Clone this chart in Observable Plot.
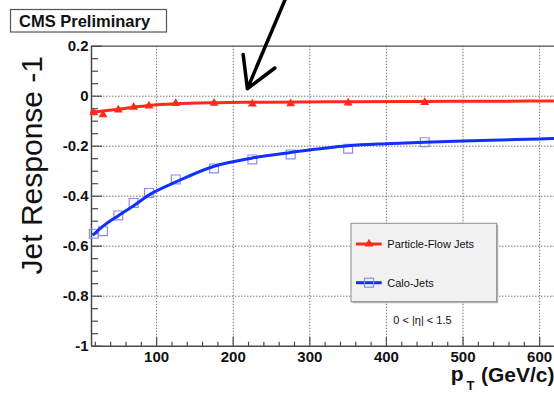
<!DOCTYPE html>
<html>
<head>
<meta charset="utf-8">
<script src="https://cdn.jsdelivr.net/npm/d3@7"></script>
<script src="https://cdn.jsdelivr.net/npm/@observablehq/plot@0.6"></script>
<style>
  html, body { margin: 0; padding: 0; background: #fff; overflow: hidden; }
  svg { display: block; }
</style>
</head>
<body>
<script>
// Jet response (reconstructed / true pT minus one) versus generated jet pT, |eta| < 1.5
const seriesNames = ["Particle-Flow Jets", "Calo-Jets"];
const seriesColors = ["#ff2a1a", "#1030ff"];
const caloMarkerColor = "#8a8cf6";

// measured points (pT bins in GeV/c)
const ptBins = [18, 30, 50, 70, 90, 125, 175, 225, 275, 350, 450];
const pfResponse = [-0.066, -0.074, -0.055, -0.044, -0.039, -0.029, -0.028, -0.031, -0.030, -0.027, -0.025];
const caloResponse = [-0.550, -0.540, -0.477, -0.427, -0.387, -0.333, -0.289, -0.253, -0.233, -0.210, -0.184];

// fitted response curves
const pfFitPt = [15, 30, 50, 70, 90, 125, 175, 250, 350, 450, 550, 620];
const pfFit = [-0.064, -0.059, -0.052, -0.044, -0.037, -0.030, -0.026, -0.024, -0.022, -0.021, -0.020, -0.019];
const caloFitPt = [18, 30, 50, 70, 90, 125, 175, 225, 275, 350, 400, 450, 500, 550, 600, 620];
const caloFit = [-0.553, -0.520, -0.478, -0.438, -0.395, -0.343, -0.280, -0.247, -0.225, -0.198, -0.190, -0.184, -0.179, -0.175, -0.171, -0.169];

// axes
const xDomain = [15, 619.4];
const yDomain = [-1, 0.2];
const xTicks = [100, 200, 300, 400, 500, 600];
const xMinorTicks = d3.range(20, 620, 20).filter(v => v % 100 !== 0);
const yTicks = [0.2, 0, -0.2, -0.4, -0.6, -0.8, -1];
const yTickLabels = ["0.2", "0", "-0.2", "-0.4", "-0.6", "-0.8", "-1"];
const yMinorTicks = d3.range(-20, 5).map(k => k * 0.05).filter(v => Math.abs(Math.round(v * 5) - v * 5) > 1e-6);
const yGridTicks = [0, -0.2, -0.4, -0.6, -0.8];

// annotations
const arrowNote = [{x1: 271, y1: 0.41, x2: 218.5, y2: 0.03}];
const etaNote = [{x: 447, y: -0.896, text: "0 < |\u03b7| < 1.5"}];
const headerText = "CMS Preliminary";
const yTitle = "Jet Response -1";

const FONT = '"Liberation Sans", Arial, Helvetica, sans-serif';
const frameStroke = "#4a4a4a";
const gridStyle = {stroke: "#777", strokeOpacity: 1, strokeWidth: 1, strokeDasharray: "1.5,1.5"};

const pfPoints = ptBins.map((x, i) => ({x, y: pfResponse[i]}));
const caloPoints = ptBins.map((x, i) => ({x, y: caloResponse[i]}));
const pfCurve = pfFitPt.map((x, i) => ({x, y: pfFit[i]}));
const caloCurve = caloFitPt.map((x, i) => ({x, y: caloFit[i]}));
const yLabelMap = new Map(yTicks.map((t, i) => [t, yTickLabels[i]]));

const chart = Plot.plot({
  width: 554,
  height: 395,
  marginLeft: 91,
  marginRight: 0,
  marginTop: 45.7,
  marginBottom: 49.3,
  style: {fontFamily: FONT, background: "white", overflow: "visible", color: "black"},
  x: {domain: xDomain, axis: null},
  y: {domain: yDomain, axis: null},
  marks: [
    Plot.gridX(xTicks, gridStyle),
    Plot.gridY(yGridTicks, gridStyle),
    // frame: left, bottom, top
    Plot.ruleX([xDomain[0]], {stroke: frameStroke, strokeWidth: 1.5}),
    Plot.ruleY([yDomain[0]], {stroke: frameStroke, strokeWidth: 1.5}),
    Plot.ruleY([yDomain[1]], {stroke: frameStroke, strokeWidth: 1.2}),
    // inward ticks
    Plot.axisY(yMinorTicks, {anchor: "right", frameAnchor: "left", tickSize: 6, tickFormat: () => "", label: null, stroke: frameStroke, strokeWidth: 1.2}),
    Plot.axisY(yTicks, {anchor: "right", frameAnchor: "left", tickSize: 10, tickFormat: () => "", label: null, stroke: frameStroke, strokeWidth: 1.2}),
    Plot.axisX(xMinorTicks, {anchor: "top", frameAnchor: "bottom", tickSize: 5, tickFormat: () => "", label: null, stroke: frameStroke, strokeWidth: 1.2}),
    Plot.axisX(xTicks, {anchor: "top", frameAnchor: "bottom", tickSize: 10, tickFormat: () => "", label: null, stroke: frameStroke, strokeWidth: 1.2}),
    // tick labels
    Plot.axisY(yTicks, {anchor: "left", tickSize: 0, tickPadding: 3, tickFormat: d => yLabelMap.get(d), label: null, fontSize: 15, fontWeight: "bold", fill: "#111"}),
    Plot.axisX(xTicks, {anchor: "bottom", tickSize: 0, tickPadding: 5, label: null, fontSize: 15, fontWeight: "bold", fill: "#111"}),
    // axis titles
    Plot.text([yTitle], {text: d => d, frameAnchor: "left", rotate: -90, dx: -59, dy: -31, fontSize: 30, textAnchor: "middle", fill: "#111"}),
    Plot.text(["(GeV/c)"], {text: d => d, frameAnchor: "bottom-right", textAnchor: "end", dy: 36, fontSize: 21, fontWeight: "bold", fill: "#111"}),
    Plot.text(["p"], {text: d => d, frameAnchor: "bottom-right", textAnchor: "end", dx: -91, dy: 35, fontSize: 21, fontWeight: "bold", fill: "#111"}),
    Plot.text(["T"], {text: d => d, frameAnchor: "bottom-right", textAnchor: "middle", dx: -84, dy: 43.5, fontSize: 13, fontWeight: "bold", fill: "#111"}),
    // data
    Plot.dot(caloPoints, {x: "x", y: "y", symbol: "square", r: 5, fill: "none", stroke: caloMarkerColor, strokeWidth: 1.2}),
    Plot.line(caloCurve, {x: "x", y: "y", stroke: seriesColors[1], strokeWidth: 3, curve: "monotone-x"}),
    Plot.line(pfCurve, {x: "x", y: "y", stroke: seriesColors[0], strokeWidth: 3, curve: "monotone-x"}),
    Plot.dot(pfPoints, {x: "x", y: "y", symbol: "triangle", r: 3.3, fill: seriesColors[0]}),
    // annotations
    Plot.arrow(arrowNote, {x1: "x1", y1: "y1", x2: "x2", y2: "y2", stroke: "black", strokeWidth: 3.5, headLength: 15, headAngle: 60}),
    Plot.text(etaNote, {x: "x", y: "y", text: "text", fontSize: 11, fill: "#111"})
  ]
});

document.body.append(chart);

const svg = d3.select(chart);

// header box
const head = svg.append("g").attr("font-family", FONT).attr("text-anchor", "start");
head.append("rect").attr("x", 10.5).attr("y", 9.5).attr("width", 156).attr("height", 22.5)
  .attr("fill", "white").attr("stroke", "#555").attr("stroke-width", 1.2);
head.append("text").attr("x", 19).attr("y", 27).attr("font-size", 16.5).attr("font-weight", "bold")
  .attr("fill", "#111").text(headerText);

// legend
const legend = svg.append("g").attr("font-family", FONT).attr("text-anchor", "start");
legend.append("rect").attr("x", 352.5).attr("y", 224.8).attr("width", 145.7).attr("height", 78.4).attr("fill", "#b5b5b5");
legend.append("rect").attr("x", 351).attr("y", 223.3).attr("width", 145.7).attr("height", 78.4)
  .attr("fill", "#f1f1f1").attr("stroke", "#8c8c8c").attr("stroke-width", 1);
const rowY = [244, 282.7];
seriesNames.forEach((name, i) => {
  const y = rowY[i];
  legend.append("line").attr("x1", 356).attr("x2", 381.7).attr("y1", y).attr("y2", y)
    .attr("stroke", seriesColors[i]).attr("stroke-width", 3);
  if (i === 0) {
    legend.append("path").attr("transform", `translate(369,${y})`)
      .attr("d", d3.symbol(d3.symbolTriangle, Math.PI * 3.3 * 3.3)()).attr("fill", seriesColors[0]);
  } else {
    legend.append("rect").attr("x", 364.5).attr("y", y - 4.5).attr("width", 9).attr("height", 9)
      .attr("fill", "none").attr("stroke", caloMarkerColor).attr("stroke-width", 1.2);
  }
  legend.append("text").attr("x", 387.3).attr("y", y + 4).attr("font-size", 11).attr("fill", "#111").text(name);
});
</script>
</body>
</html>
